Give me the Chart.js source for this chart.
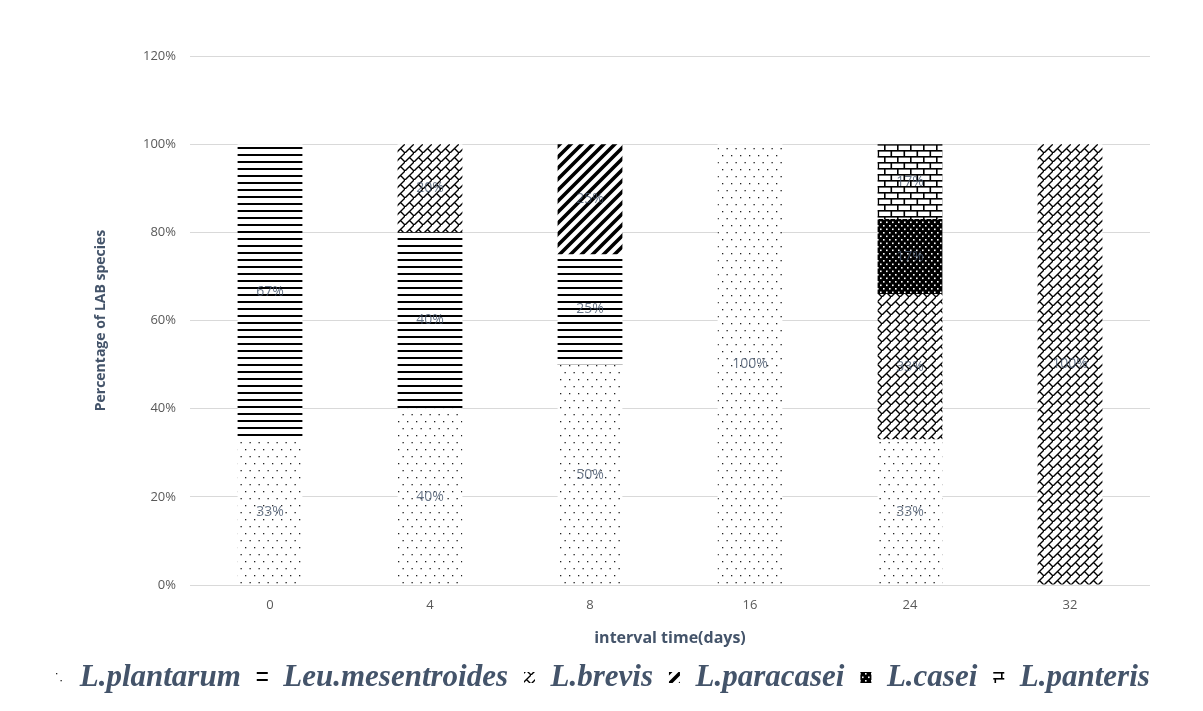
<!DOCTYPE html>
<html><head><meta charset="utf-8">
<script src="https://cdn.jsdelivr.net/npm/chart.js@4"></script>
<style>html,body{margin:0;padding:0;background:#fff}#wrap{width:1203px;height:711px}</style>
</head><body><div id="wrap"><canvas id="c" width="1203" height="711"></canvas></div>
<script>
const categories = ['0', '4', '8', '16', '24', '32'];
const seriesNames = ['L.plantarum', 'Leu.mesentroides', 'L.brevis', 'L.paracasei', 'L.casei', 'L.panteris'];
const plantarum = [33, 40, 50, 100, 33, 0];
const leuMesentroides = [67, 40, 25, 0, 0, 0];
const brevis = [0, 20, 0, 0, 33, 100];
const paracasei = [0, 0, 25, 0, 0, 0];
const casei = [0, 0, 0, 0, 17, 0];
const panteris = [0, 0, 0, 0, 17, 0];
const yTicks = [0, 20, 40, 60, 80, 100, 120];

function tile(w, h, draw) {
  const cv = document.createElement('canvas');
  cv.width = w; cv.height = h;
  const g = cv.getContext('2d');
  draw(g, w, h);
  return document.getElementById('c').getContext('2d').createPattern(cv, 'repeat');
}
const patDots = tile(9, 14, (g) => {
  g.fillStyle = '#fff'; g.fillRect(0, 0, 9, 14);
  g.fillStyle = '#222';
  g.fillRect(2, 1, 1.3, 1.3); g.fillRect(6.5, 8, 1.3, 1.3);
});
const patHoriz = tile(8, 7, (g) => {
  g.fillStyle = '#fff'; g.fillRect(0, 0, 8, 7);
  g.fillStyle = '#000'; g.fillRect(0, 0, 8, 2);
});
const patDiagBrick = tile(9, 9, (g) => {
  g.fillStyle = '#fff'; g.fillRect(0, 0, 9, 9);
  g.strokeStyle = '#000'; g.lineWidth = 1.4;
  g.beginPath();
  g.moveTo(10, -1); g.lineTo(-1, 10);
  g.moveTo(4.5, 4.5); g.lineTo(9, 9);
  g.moveTo(-4.5, 4.5); g.lineTo(0, 9);
  g.stroke();
});
const patWideDiag = tile(11, 11, (g) => {
  g.fillStyle = '#fff'; g.fillRect(0, 0, 11, 11);
  g.strokeStyle = '#000'; g.lineWidth = 3.6;
  g.beginPath();
  for (let c = -11; c <= 22; c += 11) { g.moveTo(c - 2, 13); g.lineTo(c + 13, -2); }
  g.stroke();
});
const patBlackDots = tile(6, 7, (g) => {
  g.fillStyle = '#000'; g.fillRect(0, 0, 6, 7);
  g.fillStyle = '#fff';
  g.fillRect(1, 1, 1.6, 1.6); g.fillRect(4, 4.5, 1.6, 1.6);
});
const patBrick = tile(13, 12, (g) => {
  g.fillStyle = '#fff'; g.fillRect(0, 0, 13, 12);
  g.fillStyle = '#000';
  g.fillRect(0, 0, 13, 1.6); g.fillRect(0, 6, 13, 1.6);
  g.fillRect(0, 0, 1.6, 6); g.fillRect(6.5, 6, 1.6, 6);
});

const seriesValues = [plantarum, leuMesentroides, brevis, paracasei, casei, panteris];
const patterns = [patDots, patHoriz, patDiagBrick, patWideDiag, patBlackDots, patBrick];

const labelPlugin = {
  id: 'segLabels',
  afterDatasetsDraw(chart) {
    const ctx = chart.ctx;
    ctx.save();
    ctx.font = '14px "Open Sans"';
    ctx.fillStyle = 'rgba(68,84,106,0.8)';
    ctx.textAlign = 'center';
    ctx.textBaseline = 'middle';
    chart.data.datasets.forEach((ds, i) => {
      const meta = chart.getDatasetMeta(i);
      meta.data.forEach((el, j) => {
        const v = ds.data[j];
        if (!v) return;
        ctx.fillText(v + '%', el.x, (el.y + el.base) / 2);
      });
    });
    ctx.restore();
  }
};

new Chart(document.getElementById('c'), {
  type: 'bar',
  data: {
    labels: categories,
    datasets: seriesNames.map((n, i) => ({
      label: n,
      data: seriesValues[i],
      backgroundColor: patterns[i],
      borderWidth: 0,
      categoryPercentage: 1,
      barPercentage: 0.405
    }))
  },
  options: {
    responsive: false,
    animation: false,
    layout: { padding: { left: 0, right: 0, top: 56, bottom: 8 } },
    plugins: {
      tooltip: { enabled: false },
      legend: {
        position: 'bottom',
        labels: {
          boxWidth: 11, boxHeight: 11, padding: 16,
          color: '#44546a',
          font: { family: '"Liberation Serif"', size: 31, style: 'italic', weight: 'bold' }
        }
      }
    },
    scales: {
      x: {
        stacked: true,
        grid: { display: false },
        border: { display: false },
        ticks: { color: '#595959', font: { family: '"Open Sans"', size: 13 }, padding: 4 },
        title: { display: true, text: 'interval time(days)', color: '#44546a',
                 font: { family: '"Open Sans"', size: 16, weight: 'bold' }, padding: { top: 4, bottom: -2 } },
        afterFit(s) { s.height = 61; }
      },
      y: {
        stacked: true,
        min: 0, max: 120,
        afterBuildTicks(s) { s.ticks = yTicks.map(v => ({ value: v })); },
        grid: { color: '#d9d9d9', drawTicks: false },
        border: { display: false },
        ticks: { color: '#595959', font: { family: '"Open Sans"', size: 13 }, padding: 14,
                 callback: v => v + '%' },
        title: { display: true, text: 'Percentage of LAB species', color: '#44546a',
                 font: { family: '"Open Sans"', size: 14, weight: 'bold' }, padding: { top: 93, bottom: 0 } },
        afterFit(s) { s.width = 190; }
      },
      yRight: {
        position: 'right',
        min: 0, max: 120,
        grid: { display: false, drawTicks: false },
        border: { display: false },
        ticks: { display: false },
        afterFit(s) { s.width = 53; }
      }
    }
  },
  plugins: [labelPlugin]
});
</script></body></html>
